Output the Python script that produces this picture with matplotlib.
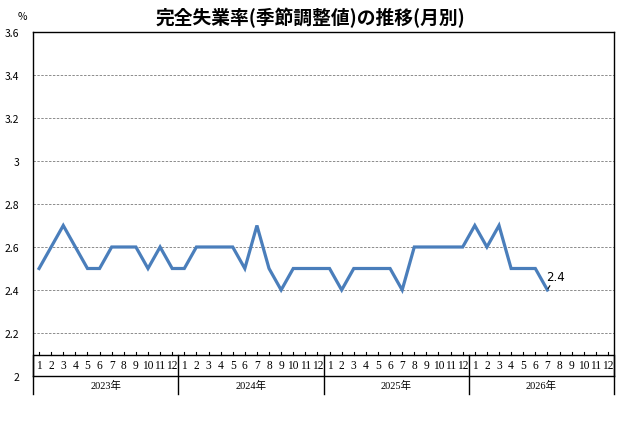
import numpy as np
import matplotlib
matplotlib.use('Agg')
import matplotlib.pyplot as plt

plt.rcParams['font.family'] = ['Noto Sans CJK JP', 'DejaVu Sans']

years = ['2023年', '2024年', '2025年', '2026年']
months = [str(m) for m in range(1, 13)]
rate_2023 = [2.5, 2.6, 2.7, 2.6, 2.5, 2.5, 2.6, 2.6, 2.6, 2.5, 2.6, 2.5]
rate_2024 = [2.5, 2.6, 2.6, 2.6, 2.6, 2.5, 2.7, 2.5, 2.4, 2.5, 2.5, 2.5]
rate_2025 = [2.5, 2.4, 2.5, 2.5, 2.5, 2.5, 2.4, 2.6, 2.6, 2.6, 2.6, 2.6]
rate_2026 = [2.7, 2.6, 2.7, 2.5, 2.5, 2.5, 2.4]
yticks = [2, 2.2, 2.4, 2.6, 2.8, 3, 3.2, 3.4, 3.6]
ytick_labels = ['2', '2.2', '2.4', '2.6', '2.8', '3', '3.2', '3.4', '3.6']

rates = rate_2023 + rate_2024 + rate_2025 + rate_2026
nslots = 12 * len(years)
x = np.arange(len(rates)) + 0.5

fig = plt.figure(figsize=(6.23, 4.39), dpi=100)
ax = fig.add_axes([33/623, 1-377/439, (614-33)/623, (377-33)/439])
ax.set_xlim(0, nslots)
ax.set_ylim(2, 3.6)

for g in yticks[1:-1]:
    ax.axhline(g, color='#8c8c8c', lw=0.7, ls=(0, (2.5, 1.5)), zorder=1)

ax.plot(x, rates, color='#4a7ebb', lw=2.3, zorder=3, solid_joinstyle='miter')

# label last point
ax.annotate('2.4', xy=(x[-1] + 0.05, rates[-1] + 0.006), xytext=(x[-1] - 0.12, rates[-1] + 0.047),
            fontsize=8.5, ha='left', va='baseline', family=['DejaVu Sans'],
            arrowprops=dict(arrowstyle='-', color='black', lw=0.8, shrinkA=0, shrinkB=0,
                            relpos=(0.3, 0)))

ax.set_yticks(yticks)
ax.set_yticklabels(ytick_labels, fontsize=7.5)
ax.tick_params(axis='y', length=0, pad=10)
ax.set_xticks([])
for s in ax.spines.values():
    s.set_linewidth(1.0)

# category table at the bottom
tab_top = 2.1
ax.axhline(tab_top, color='black', lw=1.0, zorder=4)
for i in range(nslots):
    ax.text(i + 0.5, 2.05, months[i % 12], ha='center', va='center', fontsize=8.3,
            family=['Liberation Serif'], zorder=5)
    ax.plot([i + 0.5, i + 0.5], [tab_top, tab_top + 0.012], color='black', lw=0.8, zorder=5)
for k in range(len(years) + 1):
    ax.plot([12 * k, 12 * k], [tab_top, 1.917], color='black', lw=1.0, clip_on=False, zorder=5)
for k, yl in enumerate(years):
    ax.text(12 * k + 6, 1.958, yl, ha='center', va='center', fontsize=7.5,
            family=['Liberation Serif', 'Noto Sans CJK JP'], clip_on=False)

fig.text(22/623, 1-17/439, '%', ha='center', va='center', fontsize=7.5)
fig.text(310/623, 1-18/439, '完全失業率(季節調整値)の推移(月別)', ha='center', va='center',
         fontsize=13.5, fontweight='bold')

fig.savefig('out.png', dpi=100)
